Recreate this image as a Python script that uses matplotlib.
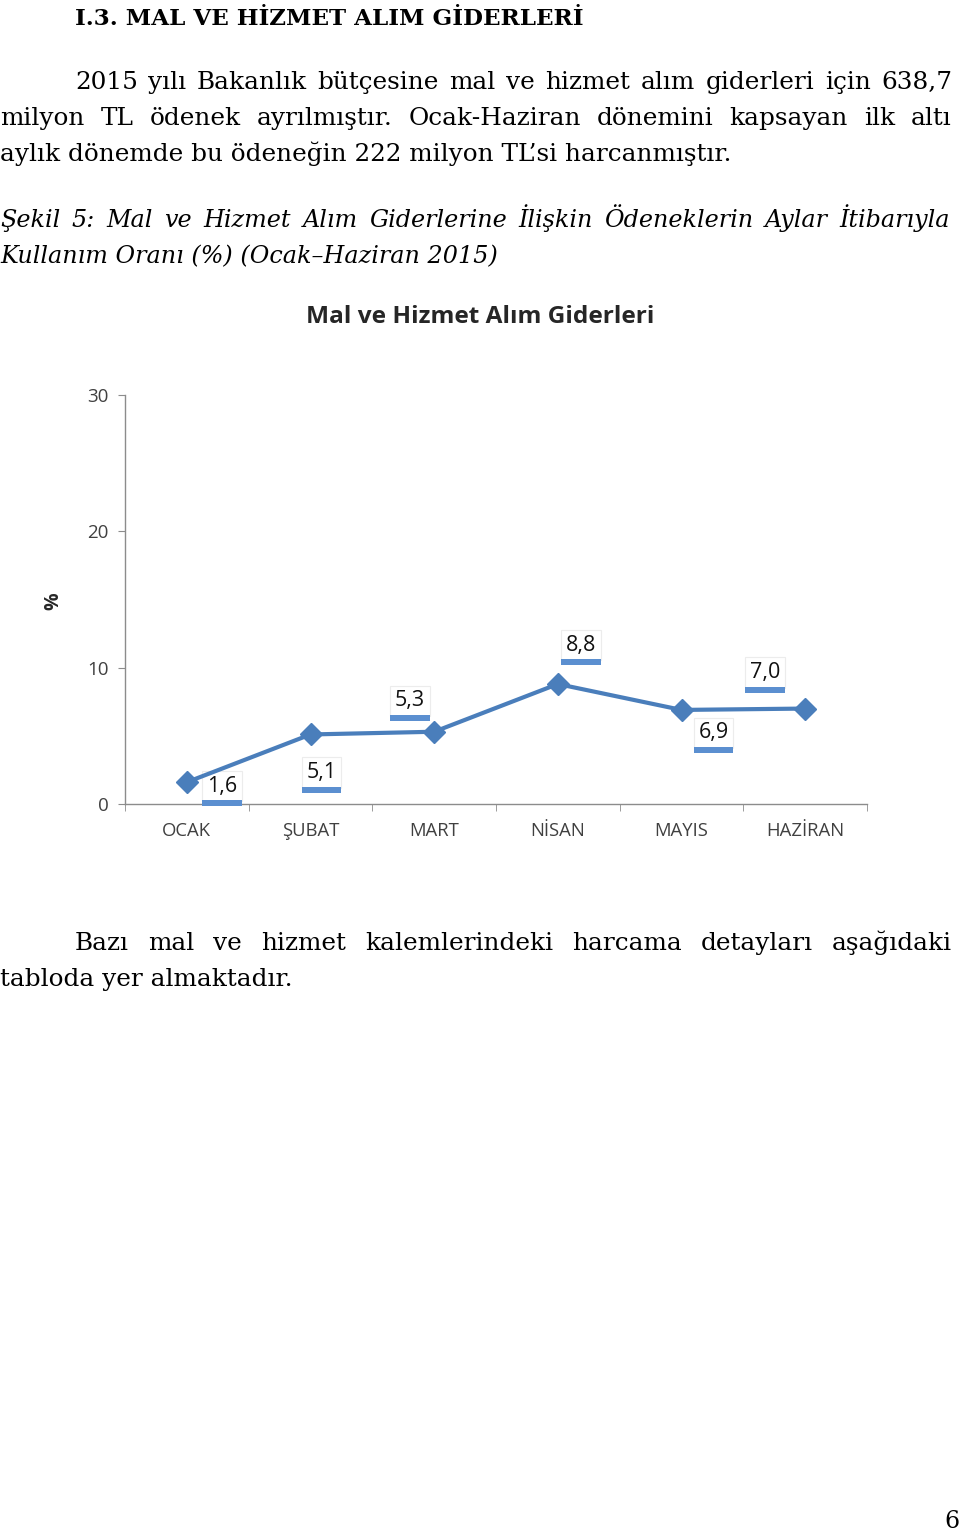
import matplotlib.pyplot as plt
import matplotlib.ticker as ticker
from matplotlib.patches import Rectangle

# ============================================================
# Data
# ============================================================
aylar = ['OCAK', 'ŞUBAT', 'MART', 'NİSAN', 'MAYIS', 'HAZİRAN']
oranlar = [1.6, 5.1, 5.3, 8.8, 6.9, 7.0]
etiketler = ['1,6', '5,1', '5,3', '8,8', '6,9', '7,0']
y_ticks = [0, 10, 20, 30]

baslik = 'I.3. MAL VE HİZMET ALIM GİDERLERİ'
paragraf1 = ['2015 yılı Bakanlık bütçesine mal ve hizmet alım giderleri için 638,7',
             'milyon TL ödenek ayrılmıştır. Ocak-Haziran dönemini kapsayan ilk altı',
             'aylık dönemde bu ödeneğin 222 milyon TL’si harcanmıştır.']
sekil = ['Şekil 5: Mal ve Hizmet Alım Giderlerine İlişkin Ödeneklerin Aylar İtibarıyla',
         'Kullanım Oranı (%) (Ocak–Haziran 2015)']
paragraf2 = ['Bazı mal ve hizmet kalemlerindeki harcama detayları aşağıdaki',
             'tabloda yer almaktadır.']

# deslocamento dos rótulos (pixels) em relação a cada ponto
ofsetler = [(35, -4), (11, -38), (-24, 31), (23, 39), (32, -23), (-40, 36)]

COR_LINHA = '#4a7ebb'
COR_BARRA = '#5b8fd0'
W, H = 960, 1532

fig = plt.figure(figsize=(W / 100, H / 100), dpi=100)
renderer = fig.canvas.get_renderer()


def fx(px):
    return px / W


def fy(py):
    return 1 - py / H


def linha(texto, x0, y, x1=None, **kw):
    """Escreve uma linha; se x1 for dado, justifica entre x0 e x1."""
    if x1 is None:
        fig.text(fx(x0), fy(y), texto, va='baseline', ha='left', **kw)
        return
    palavras = texto.split(' ')
    objs = [fig.text(0, 0, p, va='baseline', ha='left', **kw) for p in palavras]
    larg = [o.get_window_extent(renderer).width for o in objs]
    espaco = (x1 - x0 - sum(larg)) / (len(palavras) - 1)
    x = x0
    for o, w in zip(objs, larg):
        o.set_position((fx(x), fy(y)))
        x += w + espaco


serif = dict(family='DejaVu Serif', fontsize=17.8, color='black')
italico = dict(family='DejaVu Serif', fontsize=17.2, style='italic', color='black')

# ============================================================
# Texto da página
# ============================================================
fig.text(fx(75), fy(25), baslik, family='DejaVu Serif', fontsize=16.6,
         weight='bold', va='baseline', ha='left')

linha(paragraf1[0], 75, 89, 952, **serif)
linha(paragraf1[1], 0, 125, 952, **serif)
linha(paragraf1[2], 0, 161, **serif)

linha(sekil[0], 0, 227, 950, **italico)
linha(sekil[1], 0, 263, **italico)

linha(paragraf2[0], 75, 950, 952, **serif)
linha(paragraf2[1], 0, 986, **serif)

fig.text(fx(952), fy(1528), '6', family='DejaVu Serif', fontsize=17,
         va='baseline', ha='center')

# ============================================================
# Gráfico
# ============================================================
fig.text(fx(480), fy(317), 'Mal ve Hizmet Alım Giderleri', family='Open Sans',
         weight='bold', fontsize=17.6, color='#262626', ha='center', va='center')
fig.text(fx(53), fy(601), '%', family='Open Sans', weight='bold', fontsize=14,
         color='#262626', rotation=90, ha='center', va='center')

ax = fig.add_axes([fx(125), fy(804), (867 - 125) / W, (804 - 395) / H])
x = list(range(len(aylar)))
ax.plot(x, oranlar, color=COR_LINHA, linewidth=3.0, marker='D',
        markersize=11, zorder=6, clip_on=False)

ax.set_xlim(-0.5, len(aylar) - 0.5)
ax.set_ylim(0, 30)
ax.set_yticks(y_ticks)
ax.yaxis.set_major_formatter(ticker.FormatStrFormatter('%d'))
ax.set_xticks(x)
ax.set_xticklabels(aylar)
ax.set_xticks([i - 0.5 for i in range(len(aylar) + 1)], minor=True)

for s in ['top', 'right']:
    ax.spines[s].set_visible(False)
for s in ['left', 'bottom']:
    ax.spines[s].set_color('#8c8c8c')
    ax.spines[s].set_linewidth(1.0)

ax.tick_params(axis='y', length=5, color='#8c8c8c', labelsize=13.5,
               labelcolor='#404040', pad=7)
ax.tick_params(axis='x', which='major', length=0, labelsize=13.3,
               labelcolor='#404040', pad=13)
ax.tick_params(axis='x', which='minor', length=5, color='#8c8c8c')
for lbl in ax.get_xticklabels() + ax.get_yticklabels():
    lbl.set_family('Open Sans')

rotulos = []
for xi, yi, txt, (dx, dy) in zip(x, oranlar, etiketler, ofsetler):
    a = ax.annotate(txt, (xi, yi), xytext=(dx, dy), textcoords='offset pixels',
                    ha='center', va='center', fontsize=15.5, family='Open Sans',
                    color='#111111', zorder=5,
                    bbox=dict(boxstyle='square,pad=0.22', fc='white',
                              ec='#ececec', lw=0.8))
    rotulos.append(a)

# barra azul (sombra) logo abaixo de cada caixa branca
fig.canvas.draw()
for a in rotulos:
    bb = a.get_bbox_patch().get_window_extent(renderer)
    fig.patches.append(Rectangle((bb.x0, bb.y0 - 5), bb.width, 6,
                                 transform=None, facecolor=COR_BARRA,
                                 edgecolor='none', zorder=4))

fig.savefig('out.png', dpi=100)
